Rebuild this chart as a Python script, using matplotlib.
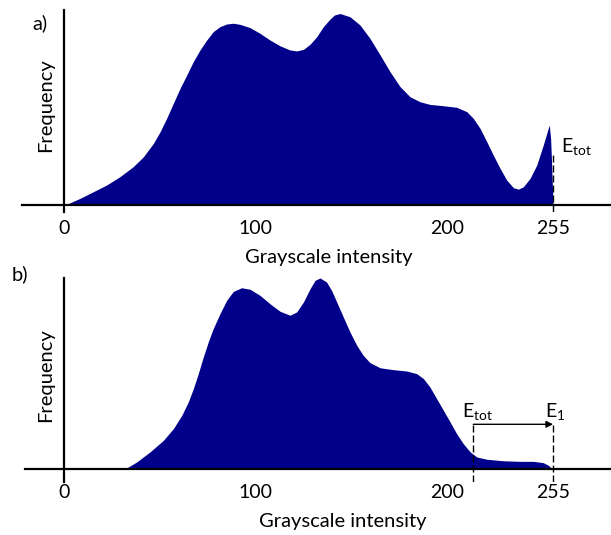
import matplotlib.pyplot as plt
import numpy as np

plt.rcParams['font.family'] = ['Lato', 'DejaVu Sans']
plt.rcParams['mathtext.fontset'] = 'custom'
plt.rcParams['mathtext.rm'] = 'Lato'
plt.rcParams['mathtext.it'] = 'Lato'

# histogram outline a) (grayscale, relative frequency)
xa = [0, 1.4, 8.3, 15.3, 22.2, 29.2, 36.1, 41.4, 46.6, 50.1, 53.5, 57.0, 60.5,
      64.0, 67.4, 70.9, 74.4, 77.8, 81.3, 84.8, 88.3, 91.8, 97.0, 102.2, 107.4,
      112.6, 117.8, 121.3, 124.8, 128.3, 131.8, 135.2, 138.7, 141.0, 143.9,
      149.1, 154.3, 159.5, 164.8, 170.0, 175.2, 180.4, 185.6, 190.8, 197.8,
      204.7, 210.0, 213.4, 216.9, 220.4, 223.8, 227.3, 230.8, 234.3, 236.9,
      239.5, 243.0, 246.5, 249.9, 251.7, 253.0, 253.7, 254.2, 254.6, 255]
ya = [0, 0.1, 3.2, 6.7, 10.2, 14.6, 19.8, 25.0, 32.0, 38.1, 45.1, 53.0, 60.8,
      67.8, 74.8, 80.9, 86.1, 90.5, 93.1, 94.5, 94.9, 94.3, 92.6, 89.6, 86.1,
      83.1, 80.9, 80.4, 81.2, 83.9, 87.9, 93.1, 97.1, 99.2, 100.0,
      98.3, 94.0, 87.0, 78.3, 69.5, 61.7, 56.4, 53.8, 52.4, 51.7,
      50.9, 48.6, 45.1, 39.9, 32.9, 25.9, 19.0, 12.8, 8.8, 8.0,
      9.3, 13.7, 20.7, 31.2, 37.3, 41.6, 34.7, 22.4, 10.2, 0]

# histogram outline b)
xb = [0, 31.8, 37.9, 44.8, 51.8, 57.0, 61.4, 64.8, 67.4, 70.0, 72.6, 75.2,
      77.8, 81.3, 84.8, 88.3, 92.6, 97.0, 102.2, 107.4, 112.6, 117.8, 121.3,
      124.8, 128.3, 130.9, 133.5, 136.9, 139.5, 142.2, 145.6, 149.1, 152.6,
      156.0, 159.5, 164.8, 171.7, 178.7, 183.9, 187.4, 190.8, 194.3, 197.8,
      201.3, 204.7, 208.2, 211.8, 215.2, 220.4, 229.1, 237.8, 244.8, 249.9,
      252.6, 254.4, 285]
yb = [0, 0, 3.7, 8.9, 15.0, 21.1, 28.1, 35.1, 42.0, 49.9, 58.6, 66.5,
      73.5, 81.3, 88.3, 93.0, 94.9, 94.1, 90.9, 86.5, 82.6, 80.5, 82.2,
      87.4, 94.4, 98.8, 100.0, 97.9, 93.5, 87.4, 79.6, 71.7, 64.8,
      59.5, 55.7, 53.0, 52.0, 51.3, 49.9, 47.3, 42.9, 36.8, 30.7,
      24.6, 18.5, 13.2, 8.9, 6.3, 5.1, 4.3, 4.0, 4.0, 3.3,
      1.9, 0, 0]

xticks = [0, 100, 200, 255]
xticklabels = ['0', '100', '200', '255']
e_tot_b = 213.4
e_max = 255

navy = '#00008b'
px = 1.918  # pixels per grayscale unit

fig = plt.figure(figsize=(6.11, 5.35), dpi=100)

def setup(ax, left_px, ylim):
    ax.set_xlim((22 - 64) / px, (611 - 64) / px)
    ax.set_ylim(*ylim)
    for s in ['top', 'right']:
        ax.spines[s].set_visible(False)
    ax.spines['left'].set_position(('data', 0))
    ax.spines['bottom'].set_position(('data', 0))
    ax.spines['bottom'].set_bounds((left_px - 64) / px, (611 - 64) / px)
    for s in ['left', 'bottom']:
        ax.spines[s].set_linewidth(1.6)
    ax.set_yticks([])
    ax.set_xticks(xticks)
    ax.set_xticklabels(xticklabels)
    ax.tick_params(axis='x', length=0, pad=11, labelsize=14)
    ax.patch.set_alpha(0)

dash = (0, (5, 2.2))

# panel a
axa = fig.add_axes([22 / 611, 1 - 212 / 535, 589 / 611, 202 / 535])
setup(axa, 22, (-(212 - 204.5) / 1.91, (204.5 - 10) / 1.91))
axa.fill_between(xa, ya, 0, color=navy, lw=0)
axa.vlines(e_max, -3.9, 26, colors='black', linestyles=dash, lw=1.0)
axa.text(e_max + 4, 25, r'E$_{\mathrm{tot}}$', fontsize=14, ha='left', va='bottom')
fig.text(329 / 611, 1 - 257 / 535, 'Grayscale intensity', fontsize=14.5, ha='center', va='center')
fig.text(46 / 611, 1 - 105 / 535, 'Frequency', fontsize=14.5, rotation=90, ha='center', va='center')
fig.text(40 / 611, 1 - 23 / 535, 'a)', fontsize=14.5, ha='center', va='center')

# panel b
axb = fig.add_axes([22 / 611, 1 - 482 / 535, 589 / 611, 204 / 535])
setup(axb, 25, (-(482 - 469) / 1.91, (469 - 278) / 1.91))
axb.fill_between(xb, yb, 0, color=navy, lw=0)
axb.vlines([e_tot_b, e_max], -6.8, 23.4, colors='black', linestyles=dash, lw=1.0)
axb.annotate('', xy=(e_max, 23.4), xytext=(e_tot_b, 23.4),
             arrowprops=dict(arrowstyle='-|>', color='black', lw=1.0,
                             shrinkA=0, shrinkB=0, mutation_scale=10))
axb.text(e_tot_b - 6, 24.5, r'E$_{\mathrm{tot}}$', fontsize=14, ha='left', va='bottom')
axb.text(e_max - 4, 24.5, r'E$_{1}$', fontsize=14, ha='left', va='bottom')
fig.text(343 / 611, 1 - 521 / 535, 'Grayscale intensity', fontsize=14.5, ha='center', va='center')
fig.text(46 / 611, 1 - 375 / 535, 'Frequency', fontsize=14.5, rotation=90, ha='center', va='center')
fig.text(20 / 611, 1 - 274 / 535, 'b)', fontsize=14.5, ha='center', va='center')

fig.savefig('out.png', dpi=100)
